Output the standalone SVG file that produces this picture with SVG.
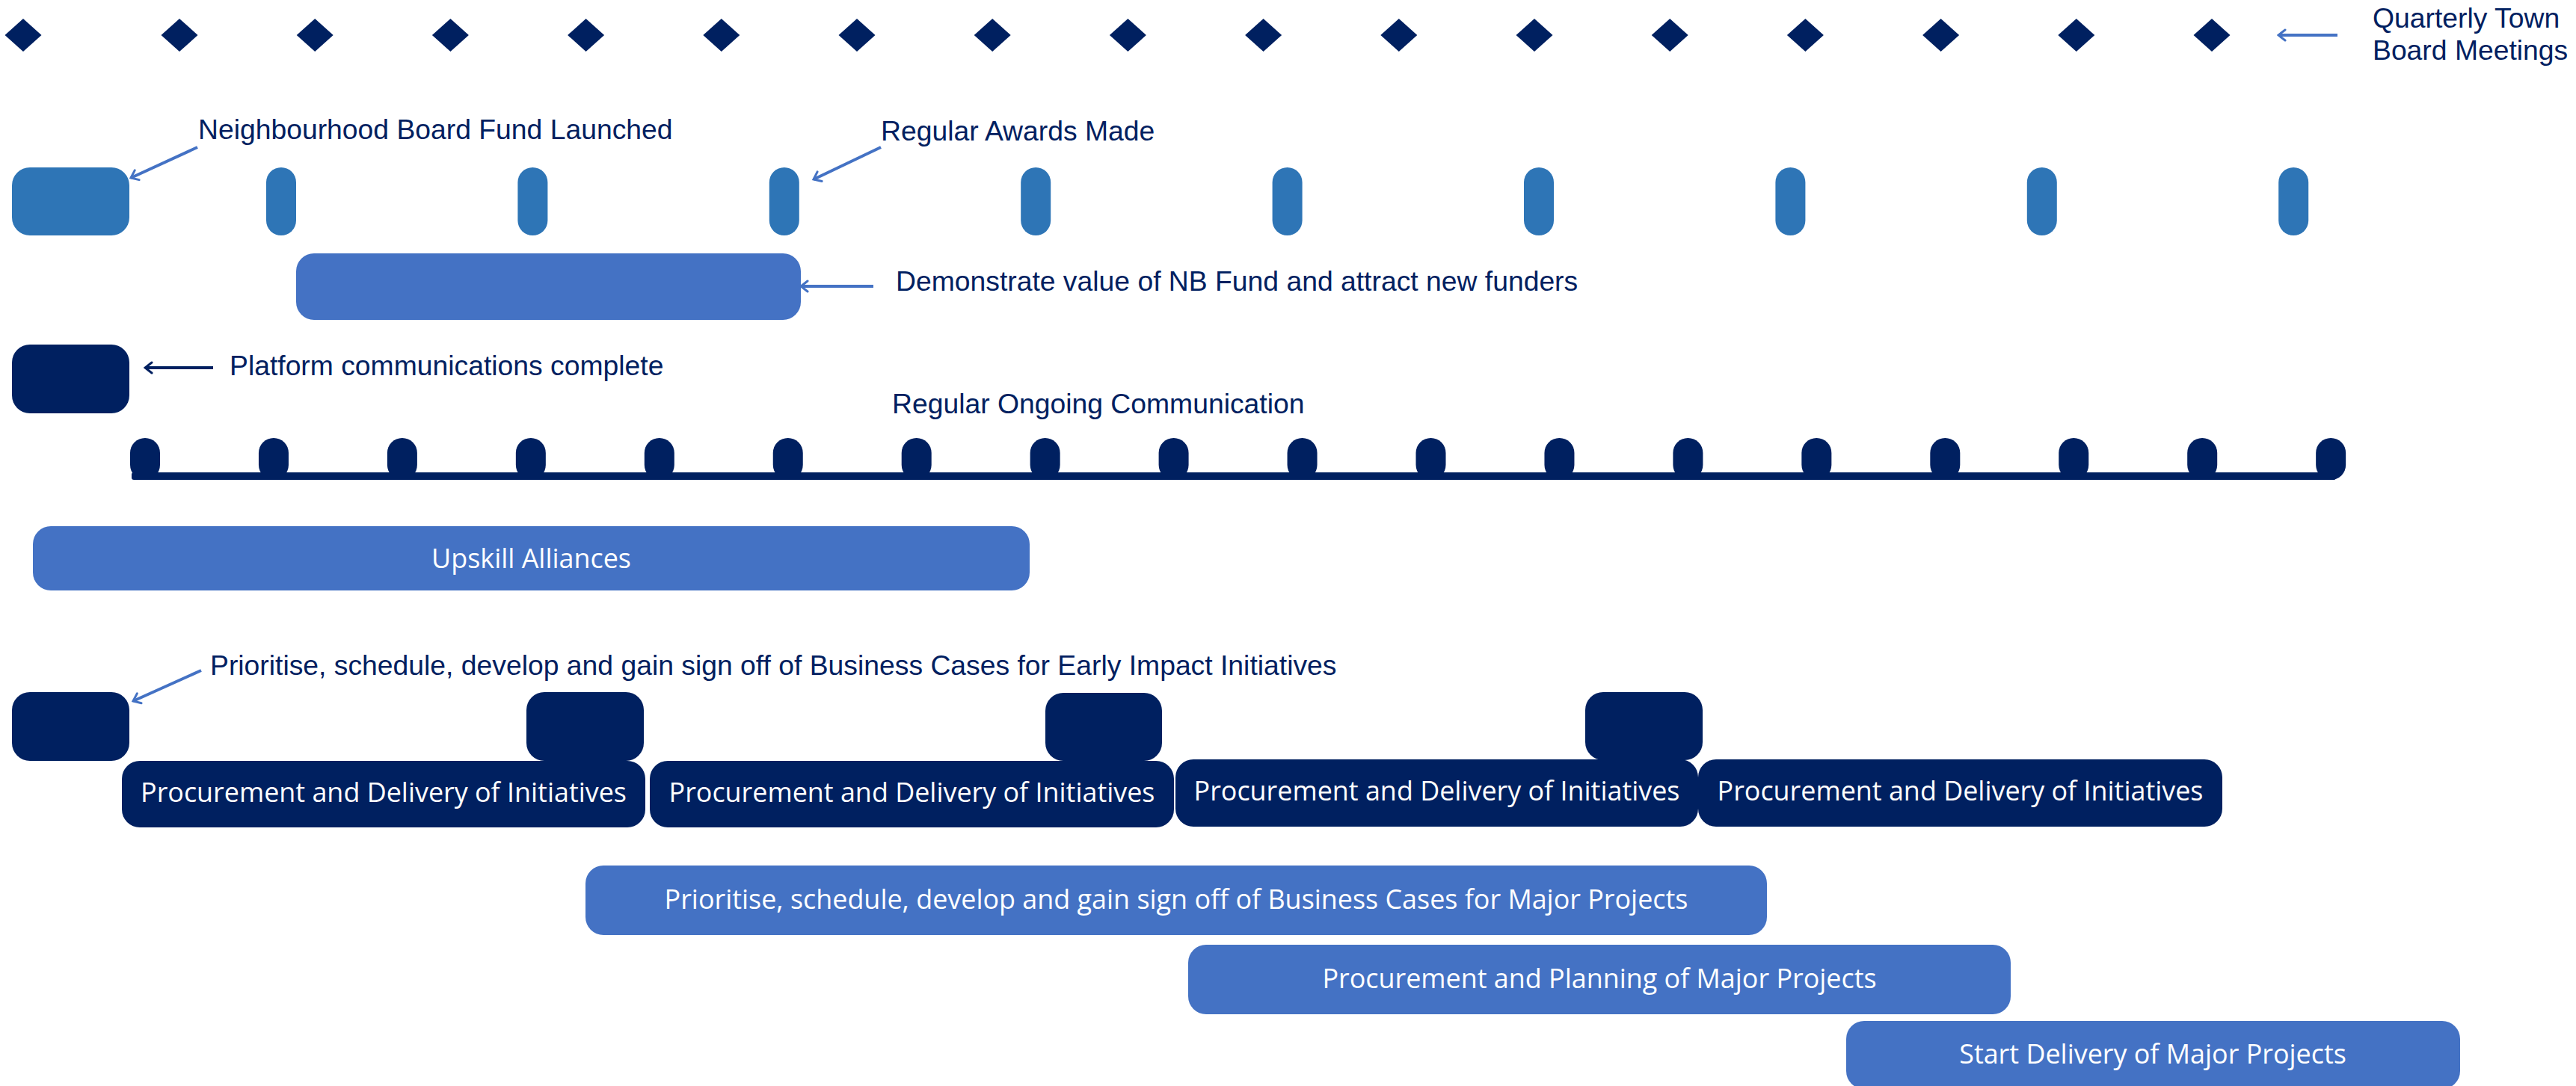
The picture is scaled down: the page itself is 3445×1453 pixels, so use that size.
<svg xmlns="http://www.w3.org/2000/svg" xmlns:xlink="http://www.w3.org/1999/xlink" width="3445" height="1453" viewBox="0 0 3445 1453">
<style>
.lbl{font-family:"Liberation Sans",Arial,sans-serif;font-size:37.3px;fill:#002060}
.btxt{font-family:"Open Sans","Noto Sans",sans-serif;font-size:35.9px;fill:#ffffff;text-anchor:middle}
.navy{fill:#002060}
.mid{fill:#2E75B6}
.light{fill:#4472C4}
.cb{stroke:#4472C4;stroke-width:4;fill:none;marker-end:url(#ab)}
.cn{stroke:#002060;stroke-width:4;fill:none;marker-end:url(#an)}
</style>
<defs>
<path id="diamond" d="M0,-22 L24.5,0 L0,22 L-24.5,0 Z"/>
<marker id="ab" viewBox="0 0 18 18" markerWidth="18" markerHeight="18" refX="16" refY="9" orient="auto" markerUnits="userSpaceOnUse"><path d="M7,2 L16,9 L7,16" fill="none" stroke="#4472C4" stroke-width="3" stroke-linecap="round"/></marker>
<marker id="an" viewBox="0 0 18 18" markerWidth="18" markerHeight="18" refX="16" refY="9" orient="auto" markerUnits="userSpaceOnUse"><path d="M7,2 L16,9 L7,16" fill="none" stroke="#002060" stroke-width="3" stroke-linecap="round"/></marker>
</defs>
<rect width="3445" height="1453" fill="#ffffff"/>

<g id="town-board-meetings" class="navy">
<use href="#diamond" x="31" y="47"/>
<use href="#diamond" x="240" y="47"/>
<use href="#diamond" x="421.2" y="47"/>
<use href="#diamond" x="602.4" y="47"/>
<use href="#diamond" x="783.6" y="47"/>
<use href="#diamond" x="964.8" y="47"/>
<use href="#diamond" x="1146" y="47"/>
<use href="#diamond" x="1327.2" y="47"/>
<use href="#diamond" x="1508.4" y="47"/>
<use href="#diamond" x="1689.6" y="47"/>
<use href="#diamond" x="1870.8" y="47"/>
<use href="#diamond" x="2052" y="47"/>
<use href="#diamond" x="2233.2" y="47"/>
<use href="#diamond" x="2414.4" y="47"/>
<use href="#diamond" x="2595.6" y="47"/>
<use href="#diamond" x="2776.8" y="47"/>
<use href="#diamond" x="2958" y="47"/>
</g>
<g id="label-town-board">
<text class="lbl" x="3173" y="37">Quarterly Town</text>
<text class="lbl" x="3173" y="80">Board Meetings</text>
</g>

<g id="fund-launched">
<rect class="mid" x="16" y="224" width="157" height="91" rx="24"/>
<text class="lbl" x="265" y="186">Neighbourhood Board Fund Launched</text>
</g>
<g id="regular-awards" class="mid">
<rect x="356" y="224" width="40" height="91" rx="20"/>
<rect x="692.4" y="224" width="40" height="91" rx="20"/>
<rect x="1028.8" y="224" width="40" height="91" rx="20"/>
<rect x="1365.2" y="224" width="40" height="91" rx="20"/>
<rect x="1701.6" y="224" width="40" height="91" rx="20"/>
<rect x="2038" y="224" width="40" height="91" rx="20"/>
<rect x="2374.4" y="224" width="40" height="91" rx="20"/>
<rect x="2710.8" y="224" width="40" height="91" rx="20"/>
<rect x="3047.2" y="224" width="40" height="91" rx="20"/>
</g>
<g id="label-awards"><text class="lbl" x="1178" y="188">Regular Awards Made</text></g>

<g id="demonstrate-value">
<rect class="light" x="396" y="339" width="675" height="89" rx="24"/>
<text class="lbl" x="1198" y="389">Demonstrate value of NB Fund and attract new funders</text>
</g>

<g id="platform-comms">
<rect class="navy" x="16" y="461" width="157" height="92" rx="24"/>
<text class="lbl" x="307" y="502">Platform communications complete</text>
</g>

<g id="ongoing-comms" class="navy">
<rect x="174" y="586" width="40" height="56" rx="20"/>
<rect x="345.95" y="586" width="40" height="56" rx="20"/>
<rect x="517.9" y="586" width="40" height="56" rx="20"/>
<rect x="689.85" y="586" width="40" height="56" rx="20"/>
<rect x="861.8" y="586" width="40" height="56" rx="20"/>
<rect x="1033.75" y="586" width="40" height="56" rx="20"/>
<rect x="1205.7" y="586" width="40" height="56" rx="20"/>
<rect x="1377.65" y="586" width="40" height="56" rx="20"/>
<rect x="1549.6" y="586" width="40" height="56" rx="20"/>
<rect x="1721.55" y="586" width="40" height="56" rx="20"/>
<rect x="1893.5" y="586" width="40" height="56" rx="20"/>
<rect x="2065.45" y="586" width="40" height="56" rx="20"/>
<rect x="2237.4" y="586" width="40" height="56" rx="20"/>
<rect x="2409.35" y="586" width="40" height="56" rx="20"/>
<rect x="2581.3" y="586" width="40" height="56" rx="20"/>
<rect x="2753.25" y="586" width="40" height="56" rx="20"/>
<rect x="2925.2" y="586" width="40" height="56" rx="20"/>
<rect x="3097.15" y="586" width="40" height="56" rx="20"/>
<rect x="176" y="632" width="2948" height="10" rx="3"/>
<text class="lbl" x="1193" y="553">Regular Ongoing Communication</text>
</g>

<g id="upskill-alliances">
<rect class="light" x="44" y="704" width="1333" height="86" rx="24"/>
<text class="btxt" x="710.5" y="760">Upskill Alliances</text>
</g>

<g id="early-impact-business-cases" class="navy">
<rect x="16" y="926" width="157" height="92" rx="24"/>
<rect x="704" y="926" width="157" height="92" rx="24"/>
<rect x="1398" y="927" width="156" height="91" rx="24"/>
<rect x="2120" y="926" width="157" height="91" rx="24"/>
</g>
<g id="label-early-impact"><text class="lbl" x="281" y="903">Prioritise, schedule, develop and gain sign off of Business Cases for Early Impact Initiatives</text></g>

<g id="procurement-1">
<rect class="navy" x="163" y="1018" width="700" height="89" rx="24"/>
<text class="btxt" x="513" y="1073">Procurement and Delivery of Initiatives</text>
</g>
<g id="procurement-2">
<rect class="navy" x="869" y="1018" width="701" height="89" rx="24"/>
<text class="btxt" x="1219.5" y="1073">Procurement and Delivery of Initiatives</text>
</g>
<g id="procurement-3">
<rect class="navy" x="1572" y="1016" width="699" height="90" rx="24"/>
<text class="btxt" x="1921.5" y="1071">Procurement and Delivery of Initiatives</text>
</g>
<g id="procurement-4">
<rect class="navy" x="2271" y="1016" width="701" height="90" rx="24"/>
<text class="btxt" x="2621.5" y="1071">Procurement and Delivery of Initiatives</text>
</g>

<g id="major-business-cases">
<rect class="light" x="783" y="1158" width="1580" height="93" rx="24"/>
<text class="btxt" x="1573" y="1216">Prioritise, schedule, develop and gain sign off of Business Cases for Major Projects</text>
</g>
<g id="major-procurement-planning">
<rect class="light" x="1589" y="1264" width="1100" height="93" rx="24"/>
<text class="btxt" x="2139" y="1322">Procurement and Planning of Major Projects</text>
</g>
<g id="major-start-delivery">
<rect class="light" x="2469" y="1366" width="821" height="91" rx="24"/>
<text class="btxt" x="2879" y="1423">Start Delivery of Major Projects</text>
</g>

<g id="connectors">
<line class="cb" x1="3126" y1="47" x2="3047" y2="47"/>
<line class="cb" x1="264" y1="197" x2="175" y2="238"/>
<line class="cb" x1="1178" y1="197" x2="1088" y2="240"/>
<line class="cb" x1="1168" y1="383" x2="1071" y2="383"/>
<line class="cn" x1="285" y1="492" x2="194" y2="492"/>
<line class="cb" x1="269" y1="897" x2="178" y2="938"/>
</g>
</svg>
